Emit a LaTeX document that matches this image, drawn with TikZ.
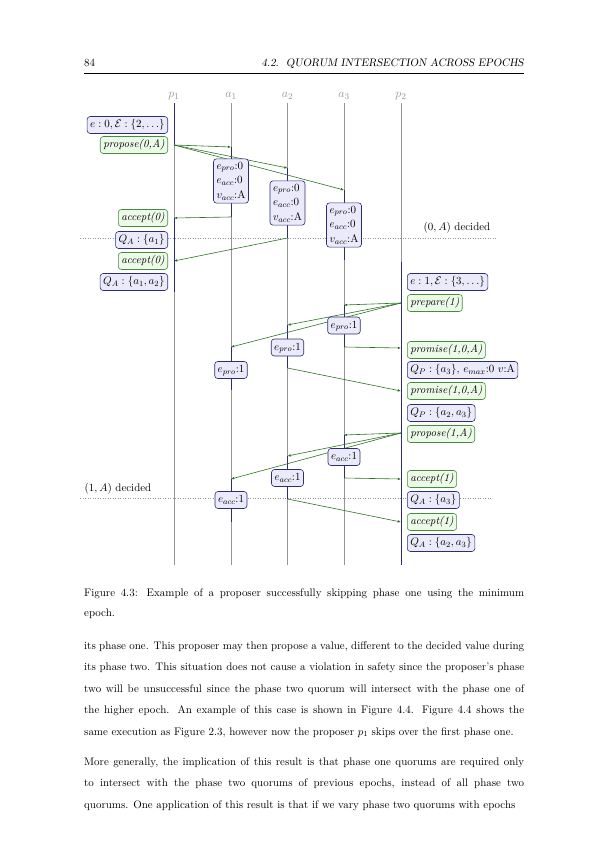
\documentclass[tikz,border=0pt]{standalone}
\usetikzlibrary{arrows.meta}
\definecolor{bxline}{RGB}{45,45,115}
\definecolor{bxfill}{RGB}{234,234,250}
\definecolor{gnline}{RGB}{70,140,60}
\definecolor{gnfill}{RGB}{236,250,232}
\definecolor{msgcol}{RGB}{45,115,35}
\definecolor{lifecol}{RGB}{150,150,150}
\tikzset{
  stbox/.style={draw=bxline, fill=bxfill, rounded corners=3pt, line width=0.6pt,
    inner xsep=3pt, inner ysep=3.5pt, text height=7.5pt, text depth=2.5pt,
    font=\fontsize{10.95}{13}\selectfont},
  gnbox/.style={stbox, draw=gnline, fill=gnfill, font=\fontsize{10.95}{13}\selectfont\itshape},
  accbox/.style={draw=bxline, fill=bxfill, rounded corners=3pt, line width=0.6pt,
    inner xsep=3pt, inner ysep=3pt, align=left, font=\fontsize{10.95}{14.7}\selectfont},
  msgline/.style={draw=msgcol, line width=0.6pt, -{Latex[length=3.2pt,width=2.6pt]}},
  lifeline/.style={draw=lifecol, line width=0.6pt},
  activeseg/.style={draw=bxline, line width=0.9pt},
  decline/.style={draw=lifecol, dotted, line width=0.5pt},
  lifelab/.style={text=lifecol, anchor=base, inner sep=0pt, font=\fontsize{12.5}{14}\selectfont},
  plain/.style={inner sep=0pt, font=\fontsize{10.95}{13}\selectfont},
  bodytext/.style={anchor=base west, inner sep=0pt, text width=440pt, align=justify,
    font=\fontsize{10.95}{21.5}\selectfont}
}
\begin{document}
\begin{tikzpicture}[x=1pt,y=-1pt]
\useasboundingbox (0,0) rectangle (595,842);
% header
\node[plain, anchor=base west] (pgnum) at (84,67) {84};
\node[plain, anchor=base east, font=\fontsize{10.95}{13}\selectfont\slshape] (hdr) at (524,67) {4.2.\ \ QUORUM INTERSECTION ACROSS EPOCHS};
\coordinate (hl) at (84,73);
\coordinate (hr) at (524,73);
\draw[line width=0.4pt] (hl) -- (hr);

% lifelines
\coordinate (p1top) at (174,103);   \coordinate (p1bot) at (174,565);
\coordinate (a1top) at (231,103);   \coordinate (a1bot) at (231,565);
\coordinate (a2top) at (287.5,103); \coordinate (a2bot) at (287.5,565);
\coordinate (a3top) at (344,103);   \coordinate (a3bot) at (344,565);
\coordinate (p2top) at (401,103);   \coordinate (p2bot) at (401,565);
\node[lifelab] (p1lab) at (174,98) {$p_1$};
\node[lifelab] (a1lab) at (231,98) {$a_1$};
\node[lifelab] (a2lab) at (287.5,98) {$a_2$};
\node[lifelab] (a3lab) at (344,98) {$a_3$};
\node[lifelab] (p2lab) at (401,98) {$p_2$};
\draw[lifeline] (p1top) -- (p1bot);
\draw[lifeline] (a1top) -- (a1bot);
\draw[lifeline] (a2top) -- (a2bot);
\draw[lifeline] (a3top) -- (a3bot);
\draw[lifeline] (p2top) -- (p2bot);

% decided lines
\coordinate (d0l) at (80,238);
\coordinate (d0r) at (497,238);
\draw[decline] (d0l) -- (d0r);
\coordinate (d1l) at (80,498);
\coordinate (d1r) at (492,498);
\draw[decline] (d1l) -- (d1r);
\node[plain] (dec0) at (457,228) {$(0, A)$ decided};
\node[plain] (dec1) at (118,489) {$(1, A)$ decided};

% message coordinates
\coordinate (s0) at (174,145);
\coordinate (r0a1) at (231,147);
\coordinate (r0a2) at (287.5,168);
\coordinate (r0a3) at (344,190);
\coordinate (y0a1) at (231,217);
\coordinate (y0a2) at (287.5,238);
\coordinate (e0a3) at (344,260);
\coordinate (q0a1) at (174,218);
\coordinate (q0a2) at (174,261);

\coordinate (s1) at (401,303);
\coordinate (r1a3) at (344,305);
\coordinate (r1a2) at (287.5,325);
\coordinate (r1a1) at (231,347);
\coordinate (y1a3) at (344,347);
\coordinate (y1a2) at (287.5,368);
\coordinate (e1a1) at (231,390);
\coordinate (q1a3) at (401,348);
\coordinate (q1a2) at (401,391);

\coordinate (s2) at (401,433);
\coordinate (r2a3) at (344,435);
\coordinate (r2a2) at (287.5,456);
\coordinate (r2a1) at (231,479);
\coordinate (y2a3) at (344,478);
\coordinate (y2a2) at (287.5,499);
\coordinate (e2a1) at (231,522);
\coordinate (q2a3) at (401,479);
\coordinate (q2a2) at (401,522);

\coordinate (p1end) at (174,292);
\coordinate (p2start) at (401,262);

% active segments
\draw[activeseg] (p1top) -- (s0);
\draw[activeseg] (q0a1) -- (p1end);
\draw[activeseg] (p2start) -- (p2bot);
\draw[activeseg] (r0a1) -- (y0a1);
\draw[activeseg] (r0a2) -- (y0a2);
\draw[activeseg] (r0a3) -- (e0a3);
\draw[activeseg] (r1a3) -- (y1a3);
\draw[activeseg] (r1a2) -- (y1a2);
\draw[activeseg] (r1a1) -- (e1a1);
\draw[activeseg] (r2a3) -- (y2a3);
\draw[activeseg] (r2a2) -- (y2a2);
\draw[activeseg] (r2a1) -- (e2a1);

% messages
\draw[msgline] (s0) -- (r0a1);
\draw[msgline] (s0) -- (r0a2);
\draw[msgline] (s0) -- (r0a3);
\draw[msgline] (y0a1) -- (q0a1);
\draw[msgline] (y0a2) -- (q0a2);
\draw[msgline] (s1) -- (r1a3);
\draw[msgline] (s1) -- (r1a2);
\draw[msgline] (s1) -- (r1a1);
\draw[msgline] (y1a3) -- (q1a3);
\draw[msgline] (y1a2) -- (q1a2);
\draw[msgline] (s2) -- (r2a3);
\draw[msgline] (s2) -- (r2a2);
\draw[msgline] (s2) -- (r2a1);
\draw[msgline] (y2a3) -- (q2a3);
\draw[msgline] (y2a2) -- (q2a2);

% acceptor boxes
\node[accbox] (b0a1) at (231,181) {$e_{pro}$:0\\$e_{acc}$:0\\$v_{acc}$:A};
\node[accbox] (b0a2) at (287.5,203) {$e_{pro}$:0\\$e_{acc}$:0\\$v_{acc}$:A};
\node[accbox] (b0a3) at (344,225) {$e_{pro}$:0\\$e_{acc}$:0\\$v_{acc}$:A};
\node[stbox] (b1a3) at (344,325.5) {$e_{pro}$:1};
\node[stbox] (b1a2) at (287.5,347.5) {$e_{pro}$:1};
\node[stbox] (b1a1) at (231,370) {$e_{pro}$:1};
\node[stbox] (b2a3) at (344,457) {$e_{acc}$:1};
\node[stbox] (b2a2) at (287.5,478) {$e_{acc}$:1};
\node[stbox] (b2a1) at (231,500) {$e_{acc}$:1};

% p1 labels
\node[stbox, anchor=east] (le0) at (168,125) {$e : 0, \mathcal{E} : \{2, \dots\}$};
\node[gnbox, anchor=east] (lprop0) at (168,145) {propose(0,A)};
\node[gnbox, anchor=east] (lacc0a) at (168,218) {accept(0)};
\node[stbox, anchor=east] (lqa0a) at (168,240) {$Q_A : \{a_1\}$};
\node[gnbox, anchor=east] (lacc0b) at (168,261) {accept(0)};
\node[stbox, anchor=east] (lqa0b) at (168,282) {$Q_A : \{a_1, a_2\}$};

% p2 labels
\node[stbox, anchor=west] (le1) at (407,282) {$e : 1, \mathcal{E} : \{3, \dots\}$};
\node[gnbox, anchor=west] (lprep1) at (407,303) {prepare(1)};
\node[gnbox, anchor=west] (lprom1a) at (407,350) {promise(1,0,A)};
\node[stbox, anchor=west] (lqp1a) at (407,370) {$Q_P : \{a_3\}$, $e_{max}$:0 $v$:A};
\node[gnbox, anchor=west] (lprom1b) at (407,391) {promise(1,0,A)};
\node[stbox, anchor=west] (lqp1b) at (407,413) {$Q_P : \{a_2, a_3\}$};
\node[gnbox, anchor=west] (lprop1) at (407,434) {propose(1,A)};
\node[gnbox, anchor=west] (lacc1a) at (407,479) {accept(1)};
\node[stbox, anchor=west] (lqa1a) at (407,500) {$Q_A : \{a_3\}$};
\node[gnbox, anchor=west] (lacc1b) at (407,522) {accept(1)};
\node[stbox, anchor=west] (lqa1b) at (407,543) {$Q_A : \{a_2, a_3\}$};

% caption
\node[bodytext, font=\fontsize{10.95}{20.5}\selectfont] (cap) at (84,596) {Figure 4.3: Example of a proposer successfully skipping phase one using the minimum\linebreak epoch.};

% body
\node[bodytext] (par1) at (84,649) {its phase one. This proposer may then propose a value, different to the decided value during\linebreak its phase two. This situation does not cause a violation in safety since the proposer's phase\linebreak two will be unsuccessful since the phase two quorum will intersect with the phase one of\linebreak the higher epoch. An example of this case is shown in Figure 4.4. Figure 4.4 shows the\linebreak same execution as Figure 2.3, however now the proposer $p_1$ skips over the first phase one.};
\node[bodytext] (par2) at (84,765) {\parfillskip=0pt More generally, the implication of this result is that phase one quorums are required only\linebreak to intersect with the phase two quorums of previous epochs, instead of all phase two\linebreak quorums. One application of this result is that if we vary phase two quorums with epochs};
\end{tikzpicture}
\end{document}
